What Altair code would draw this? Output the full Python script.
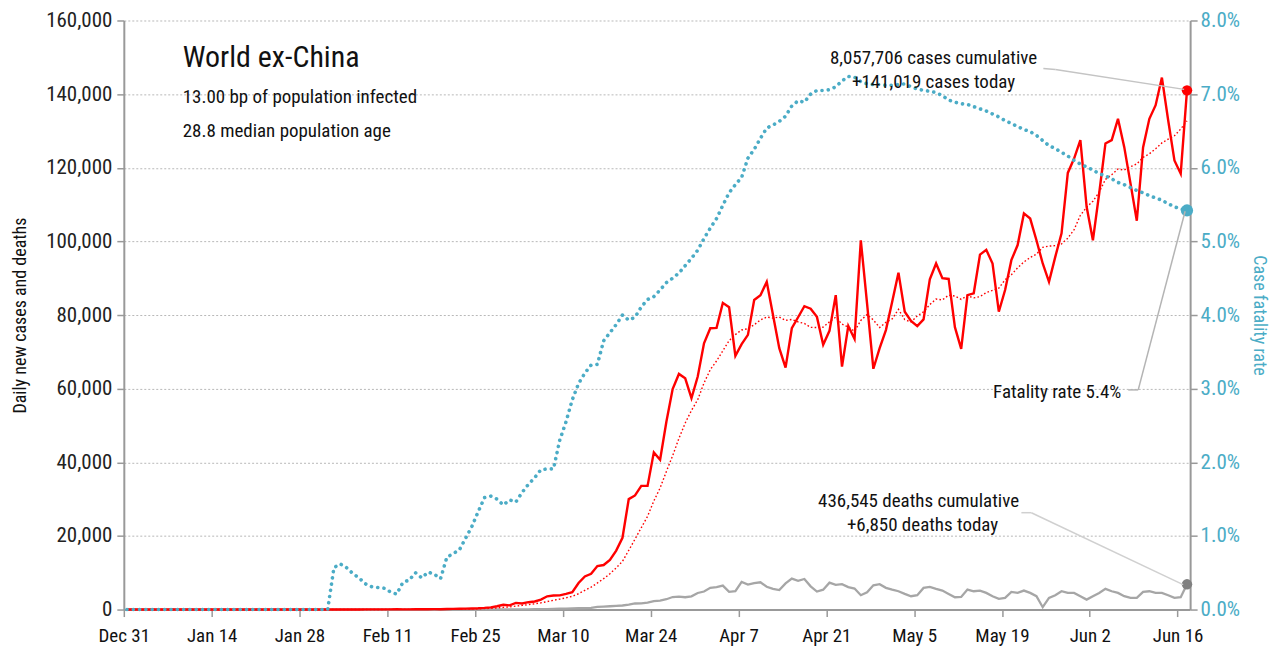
import altair as alt
import pandas as pd

# ---------------- data ----------------
START = "2019-12-31 12:00"
TICK_DATES = ["2019-12-31", "2020-01-14", "2020-01-28", "2020-02-11", "2020-02-25",
              "2020-03-10", "2020-03-24", "2020-04-07", "2020-04-21", "2020-05-05",
              "2020-05-19", "2020-06-02", "2020-06-16"]

CASES = [
    0, 0, 0, 0, 0, 0, 0, 0, 0, 0, 0, 0, 0, 1, 0, 1, 0, 0, 1, 2, 1,
    3, 5, 8, 10, 12, 15, 20, 15, 20, 25, 30,
    20, 30, 25, 20, 25, 30, 40, 35, 40, 50, 60, 80, 50, 60, 70, 90, 100, 110,
    100, 150, 180, 200, 250, 300, 350, 450, 600, 900,
    1300, 1150, 1800, 1650, 2000, 2200, 2700, 3600, 3800, 3850, 4250, 4700,
    7200, 9000, 9700, 11800, 12100, 13500, 16000, 19500,
    30000, 31000, 33600, 33600, 42700, 40700, 51000, 59900, 64000, 62800,
    57400, 63300, 72300, 76400, 76500, 83300, 82100, 68900, 72100, 74600,
    84100, 85400, 89000, 80000, 71000,
    65700, 76400, 79400, 82400, 81700, 79500, 71900, 75700, 85400, 66000, 77000, 73500, 100300,
    83000, 65400, 71000, 75900, 83600, 91500,
    80900, 78400, 77000, 78800, 89700, 94000, 90000, 89800, 76700, 70800, 85400, 85900,
    96400, 97700, 94000, 80900, 86800, 94900, 99000, 107600, 106200, 100300, 94000, 89000, 95800, 102200,
    118600, 122500, 127500, 109400, 100300, 113000, 126600, 127500, 133300, 125600,
    115700, 105600, 125500, 133300, 137000, 144500, 132900, 122000, 118400, 141019,
]

DEATHS = [0] * 32 + [
    0, 1, 0, 0, 0, 0, 0, 0, 0, 0, 0, 0, 0, 1, 0, 1, 0, 0, 0, 1, 2, 3, 4, 3,
    8, 10, 12, 15, 20, 25, 40,
    60, 70, 80, 100, 110, 200, 230, 280, 330, 360, 400, 430,
    700, 820, 900, 1000, 1100, 1350, 1650, 1700, 1900, 2300, 2450, 2800, 3400, 3500, 3350, 3600, 4500,
    4900, 5900, 6100, 6500, 4800, 5000, 7500, 6800, 7200, 7400, 6200, 5600, 5300, 7100, 8400,
    7800, 8300, 6300, 4900, 5400, 7300, 6700, 6900, 6100, 5700, 3900, 4700, 6600, 6900, 5900, 5400,
    4970, 4250, 3620, 3890, 5880, 6150, 5610, 5150, 4250, 3340, 3440, 5420, 4970, 5150, 4520,
    3620, 2900, 3170, 4800, 4520, 5150, 4520, 3620, 640, 3170, 3890, 4970, 4520, 4520, 3620,
    2710, 3620, 4520, 5610, 4970, 4520, 3620, 3170, 3170, 4800, 4970, 4520, 4520, 3890, 3170,
    3340, 6850,
]

CFR = [0.0] * 33 + [
    0.57, 0.62, 0.57, 0.49, 0.43, 0.35, 0.31, 0.30, 0.29, 0.24,
    0.21, 0.37, 0.40, 0.50, 0.43, 0.51, 0.48, 0.42, 0.71, 0.76,
    0.81, 0.97, 1.13, 1.33, 1.52, 1.54, 1.50, 1.42, 1.49, 1.46,
    1.59, 1.70, 1.79, 1.90, 1.91, 1.91, 2.30, 2.55, 2.85, 3.07,
    3.21, 3.32, 3.33, 3.65, 3.76, 3.87, 4.00, 3.93, 3.97, 4.11,
    4.21, 4.25, 4.34, 4.44, 4.50, 4.57, 4.67, 4.77, 4.88, 5.04,
    5.18, 5.31, 5.49, 5.66, 5.77, 5.87, 6.13, 6.25, 6.40, 6.54,
    6.58, 6.63, 6.70, 6.84, 6.91, 6.89, 7.00, 7.05, 7.05, 7.06,
    7.10, 7.18, 7.24, 7.23, 7.17, 7.14, 7.13, 7.13, 7.12, 7.12,
    7.13, 7.14, 7.10, 7.07, 7.05, 7.04, 7.02, 6.98, 6.92, 6.89,
    6.87, 6.86, 6.83, 6.80, 6.77, 6.73, 6.69, 6.64, 6.60, 6.56,
    6.52, 6.49, 6.44, 6.37, 6.30, 6.26, 6.21, 6.16, 6.10, 6.05,
    6.01, 5.97, 5.92, 5.89, 5.85, 5.80, 5.77, 5.73, 5.69, 5.66,
    5.62, 5.59, 5.56, 5.51, 5.47, 5.44, 5.42,
]

TITLE = "World ex-China"
SUBTITLE_1 = "13.00 bp of population infected"
SUBTITLE_2 = "28.8 median population age"
CASES_NOTE = ["8,057,706 cases cumulative", "+141,019 cases today"]
DEATHS_NOTE = ["436,545 deaths cumulative", "+6,850 deaths today"]
CFR_NOTE = "Fatality rate 5.4%"

assert len(CASES) == len(DEATHS) == len(CFR) == 170

# ---------------- styling ----------------
FONT = "Roboto Condensed, Liberation Sans Narrow, DejaVu Sans Condensed, sans-serif"
RED = "#ff0000"
BLUE = "#4bacc6"
GREY = "#a6a6a6"
AXIS_GREY = "#999999"
LEADER = "#c4c4c4"

df = pd.DataFrame({
    "date": pd.date_range(START, periods=len(CASES), freq="D"),
    "cases": CASES,
    "deaths": DEATHS,
    "cfr": CFR,
})
df["last"] = df.index == len(df) - 1


def dt(s):
    y, m, d = (int(p) for p in s.split("-"))
    return alt.DateTime(year=y, month=m, date=d)


x_scale = alt.Scale(domain=[dt("2019-12-31"), dt("2020-06-18")])
x_axis = alt.Axis(values=[dt(s) for s in TICK_DATES], format="%b %-d", title=None,
                  grid=False, domainColor=AXIS_GREY, domainWidth=2, tickColor=AXIS_GREY,
                  tickWidth=1.5, tickSize=7, labelFontSize=19, labelColor="#111",
                  labelFont=FONT, labelPadding=10, labelFlush=False, labelOverlap=False)
X = alt.X("date:T", scale=x_scale, axis=x_axis)

y_left_scale = alt.Scale(domain=[0, 160000], nice=False)
y_left_axis = alt.Axis(values=list(range(0, 160001, 20000)),
                       labelExpr="format(datum.value, ',')",
                       title="Daily new cases and deaths", titleFont=FONT, titleFontSize=18,
                       titleFontWeight="normal", titleColor="#111", titlePadding=16,
                       grid=True, gridDash=[2, 2], gridColor="#b8b8b8", gridWidth=1,
                       domainColor=AXIS_GREY, domainWidth=2, tickColor=AXIS_GREY,
                       tickWidth=1.5, tickSize=7, labelFontSize=21, labelColor="#222",
                       labelFont=FONT, labelPadding=5)

base = alt.Chart(df)

deaths_line = base.mark_line(color=GREY, strokeWidth=2.3).encode(
    x=X, y=alt.Y("deaths:Q", scale=y_left_scale, axis=y_left_axis))
ma_line = base.transform_window(
    ma="mean(cases)", frame=[-6, 0], sort=[alt.SortField("date")]
).mark_line(color=RED, strokeWidth=1.4, strokeDash=[1.6, 2.2]).encode(
    x=X, y=alt.Y("ma:Q", scale=y_left_scale))
cases_line = base.mark_line(color=RED, strokeWidth=2.4).encode(
    x=X, y=alt.Y("cases:Q", scale=y_left_scale))
cases_dot = base.transform_filter(alt.datum.last).mark_circle(
    color=RED, size=110, opacity=1).encode(x=X, y=alt.Y("cases:Q", scale=y_left_scale))
deaths_dot = base.transform_filter(alt.datum.last).mark_circle(
    color="#808080", size=110, opacity=1).encode(x=X, y=alt.Y("deaths:Q", scale=y_left_scale))

left = alt.layer(deaths_line, ma_line, cases_line, cases_dot, deaths_dot)

y_right_scale = alt.Scale(domain=[0, 8], nice=False)
y_right_axis = alt.Axis(orient="right", values=list(range(0, 9)),
                        labelExpr="format(datum.value, '.1f') + '%'",
                        title="Case fatality rate", titleFont=FONT, titleFontSize=18,
                        titleFontWeight="normal", titleColor=BLUE, titleAngle=90,
                        titlePadding=10, grid=False, domainColor=AXIS_GREY, domainWidth=2,
                        tickColor=AXIS_GREY, tickWidth=1.5, tickSize=7, labelFontSize=21,
                        labelColor=BLUE, labelFont=FONT, labelPadding=3)

cfr_line = base.mark_line(color=BLUE, strokeWidth=3.6, strokeCap="round",
                          strokeDash=[0.1, 6.2]).encode(
    x=X, y=alt.Y("cfr:Q", scale=y_right_scale, axis=y_right_axis))
cfr_dot = base.transform_filter(alt.datum.last).mark_circle(
    color=BLUE, size=150, opacity=1).encode(x=X, y=alt.Y("cfr:Q", scale=y_right_scale))

right = alt.layer(cfr_line, cfr_dot)


def note(txt, x, y, size=19, align="left"):
    return alt.Chart(alt.Data(values=[{"t": txt}])).mark_text(
        align=align, baseline="alphabetic", font=FONT, fontSize=size, color="#111"
    ).encode(x=alt.value(x), y=alt.value(y), text="t:N")


def leader(x1, y1, x2, y2, color=LEADER):
    return alt.Chart(alt.Data(values=[{"k": 1}])).mark_rule(
        color=color, strokeWidth=1.5
    ).encode(x=alt.value(x1), y=alt.value(y1), x2=alt.value(x2), y2=alt.value(y2))


notes = alt.layer(
    note(TITLE, 59, 47, size=30),
    note(SUBTITLE_1, 59, 83),
    note(SUBTITLE_2, 59, 117),
    note(CASES_NOTE[0], 811, 44, align="center"),
    note(CASES_NOTE[1], 811, 68, align="center"),
    note(DEATHS_NOTE[0], 796, 487, align="center"),
    note(DEATHS_NOTE[1], 800, 511, align="center"),
    note(CFR_NOTE, 999, 378, align="right"),
    leader(921, 48, 933, 49), leader(933, 49, 1062, 69),
    leader(1006, 370, 1016, 370, "#b4b4b4"), leader(1016, 370, 1063, 191, "#b4b4b4"),
    leader(899, 493, 909, 493, "#d0d0d0"), leader(909, 493, 1061, 565, "#d0d0d0"),
)

chart = alt.layer(left, right, notes).resolve_scale(y="independent").properties(
    width=1068, height=590,
    autosize=alt.AutoSizeParams(type="none"),
    padding={"left": 116, "top": 12, "right": 80, "bottom": 40},
    background="white",
).configure_view(stroke=None)

chart.save("out.html", embed_options={"renderer": "svg", "actions": False})
